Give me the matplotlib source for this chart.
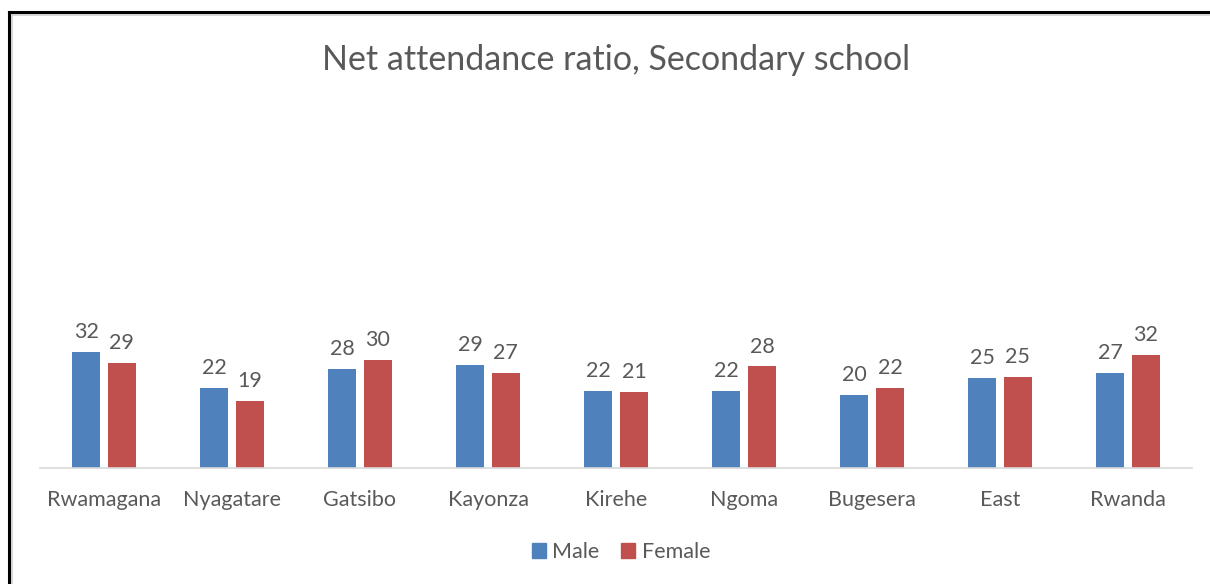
import matplotlib
matplotlib.use("Agg")
import matplotlib.pyplot as plt
from matplotlib.lines import Line2D
from matplotlib.patches import Patch
import numpy as np

categories = ["Rwamagana", "Nyagatare", "Gatsibo", "Kayonza", "Kirehe",
              "Ngoma", "Bugesera", "East", "Rwanda"]
male = [32.4, 22.3, 27.7, 28.8, 21.6, 21.6, 20.4, 25.1, 26.6]
female = [29.4, 18.7, 30.2, 26.6, 21.2, 28.4, 22.3, 25.4, 31.6]
title = "Net attendance ratio, Secondary school"
series_names = ["Male", "Female"]

W, H = 1210, 584
fig = plt.figure(figsize=(W / 100, H / 100), dpi=100)
fig.patch.set_facecolor("white")

font = ["Lato", "DejaVu Sans"]
gray = "#595959"
blue = "#4F81BD"
red = "#C0504D"

# frame
fig.add_artist(Line2D([9 / W, 9 / W], [0, 1 - 12 / H], color="black", lw=2.2,
                      transform=fig.transFigure))
fig.add_artist(Line2D([9 / W, 1], [1 - 12 / H, 1 - 12 / H], color="black", lw=2.2,
                      transform=fig.transFigure))
fig.add_artist(Line2D([12 / W, 1], [1 - 15 / H, 1 - 15 / H], color="#cfcfcf", lw=1.2,
                      transform=fig.transFigure))
fig.add_artist(Line2D([12 / W, 12 / W], [0, 1 - 15 / H], color="#cfcfcf", lw=1.2,
                      transform=fig.transFigure))

ax = fig.add_axes([40 / W, 1 - 468 / H, (1192 - 40) / W, (468 - 110) / H])
x = np.arange(len(categories))
bw = 0.22
off = 0.14
b1 = ax.bar(x - off, male, bw, color=blue, label=series_names[0])
b2 = ax.bar(x + off, female, bw, color=red, label=series_names[1])
for bars, vals in ((b1, male), (b2, female)):
    for rect, v in zip(bars, vals):
        ax.text(rect.get_x() + rect.get_width() / 2, v + 2.7, f"{v:.0f}",
                ha="center", va="bottom", fontsize=15.5, color=gray, family=font)

ax.set_xlim(-0.5, len(categories) - 0.5)
ax.set_ylim(0, 100)
ax.set_yticks([])
ax.set_xticks(x)
ax.set_xticklabels(categories, fontsize=15.5, color=gray, family=font)
ax.tick_params(axis="x", length=0, pad=16)
for s in ["top", "right", "left"]:
    ax.spines[s].set_visible(False)
ax.spines["bottom"].set_color("#d9d9d9")
ax.spines["bottom"].set_linewidth(1.2)

fig.text(616 / W, 1 - 60 / H, title, ha="center", va="center", fontsize=24.5,
         color=gray, family=font)

handles = [Patch(color=blue, label=series_names[0]), Patch(color=red, label=series_names[1])]
fig.legend(handles=handles, loc="center", bbox_to_anchor=(621 / W, 1 - 552 / H), ncol=2,
           frameon=False, prop={"family": font, "size": 15.5}, labelcolor=gray,
           handlelength=0.65, handleheight=0.65, handletextpad=0.3, columnspacing=1.0)

fig.savefig("out.png", dpi=100)
